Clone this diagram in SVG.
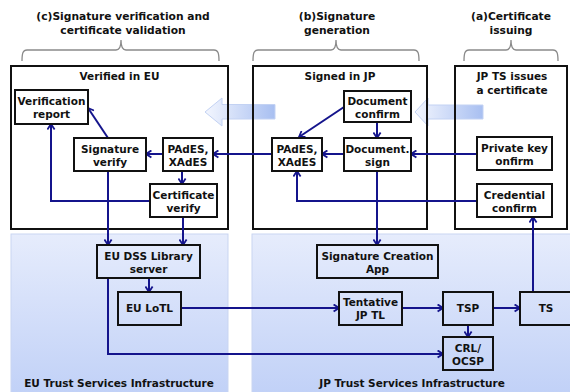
<svg xmlns="http://www.w3.org/2000/svg" width="570" height="392" viewBox="0 0 570 392">
  <style>
    text { font-family: "DejaVu Sans", "Liberation Sans", sans-serif; font-weight: bold; font-size: 10.5px; fill: #111; text-anchor: middle; }
    .head { font-size: 10.7px; }
    .frame { fill: none; stroke: #111; stroke-width: 2; }
    .box { fill: #fff; stroke: #111; stroke-width: 2; }
    .box-t { fill: none; stroke: #111; stroke-width: 2; }
    .brace { fill: none; stroke: #8a8a8a; stroke-width: 1.3; }
    .infra { fill: url(#infraGrad); stroke: #c9d5f1; stroke-width: 1; }
    .flow { fill: url(#flowGrad); stroke: #c3d2f3; stroke-width: 1; }
    .conn { fill: none; stroke: #14148c; stroke-width: 2; marker-end: url(#arr); }
  </style>
  <defs>
    <linearGradient id="infraGrad" x1="0" y1="0" x2="0" y2="1">
      <stop offset="0" stop-color="#e6ecfc"/>
      <stop offset="1" stop-color="#c1d1f7"/>
    </linearGradient>
    <linearGradient id="flowGrad" x1="0" y1="0" x2="1" y2="0">
      <stop offset="0" stop-color="#f3f6fe"/>
      <stop offset="1" stop-color="#a8bff1"/>
    </linearGradient>
    <marker id="arr" viewBox="0 0 10 10" refX="9" refY="5" markerWidth="9" markerHeight="9" markerUnits="userSpaceOnUse" orient="auto">
      <path d="M3,1 L9,5 L3,9" fill="none" stroke="#14148c" stroke-width="2"/>
    </marker>
  </defs>

  <!-- Infrastructure areas -->
  <g id="eu-infra">
    <rect class="infra" x="11" y="234" width="217" height="160"/>
    <text x="119" y="387">EU Trust Services Infrastructure</text>
  </g>
  <g id="jp-infra">
    <rect class="infra" x="252" y="234" width="320" height="160"/>
    <text x="412" y="387">JP Trust Services Infrastructure</text>
  </g>

  <!-- Phase headings with braces -->
  <g id="phase-c">
    <text class="head" x="123" y="20">(c)Signature verification and</text>
    <text class="head" x="123" y="34">certificate validation</text>
    <path class="brace" d="M22,61 C22,53 23,50 27,50 L116,50 C119,50 121,48 121,40 C121,48 123,50 126,50 L214,50 C218,50 219,53 219,61"/>
  </g>
  <g id="phase-b">
    <text class="head" x="337" y="20">(b)Signature</text>
    <text class="head" x="337" y="34">generation</text>
    <path class="brace" d="M253,61 C253,53 254,50 258,50 L331,50 C334,50 336,48 336,40 C336,48 338,50 341,50 L414,50 C418,50 419,53 419,61"/>
  </g>
  <g id="phase-a">
    <text class="head" x="511" y="20">(a)Certificate</text>
    <text class="head" x="511" y="34">issuing</text>
    <path class="brace" d="M464,61 C464,53 465,50 469,50 L506,50 C509,50 511,48 511,40 C511,48 513,50 516,50 L553,50 C557,50 558,53 558,61"/>
  </g>

  <!-- Flow direction arrows -->
  <g id="flow-arrows">
    <path class="flow" d="M205,112 L222,98 L222,104.5 L275,104.5 L275,119 L222,119 L222,126 Z"/>
    <path class="flow" d="M415,112 L428,98 L428,105 L483,105 L483,119 L428,119 L428,126 Z"/>
  </g>

  <!-- Phase frames -->
  <g id="verified-eu">
    <rect class="frame" x="11" y="66" width="217" height="163"/>
    <text x="119.5" y="80">Verified in EU</text>
  </g>
  <g id="signed-jp">
    <rect class="frame" x="253" y="66" width="174" height="163"/>
    <text x="340" y="80">Signed in JP</text>
  </g>
  <g id="jp-ts-issues">
    <rect class="frame" x="455" y="66" width="112" height="163"/>
    <text x="512" y="80">JP TS issues</text>
    <text x="512" y="94">a certificate</text>
  </g>

  <!-- Connectors -->
  <g id="connectors">
    <path class="conn" d="M272,154 H213"/>
    <path class="conn" d="M163,154 H146"/>
    <path class="conn" d="M182,171 V184"/>
    <path class="conn" d="M108,138 L88,108"/>
    <path class="conn" d="M150,201 H51 V124"/>
    <path class="conn" d="M108,171 V245"/>
    <path class="conn" d="M183,217 V245"/>
    <path class="conn" d="M149,278 V292"/>
    <path class="conn" d="M108,278 V354 H443"/>
    <path class="conn" d="M181,308 H339"/>
    <path class="conn" d="M402,308 H443"/>
    <path class="conn" d="M493,308 H520"/>
    <path class="conn" d="M468,325 V337"/>
    <path class="conn" d="M533,292 V217"/>
    <path class="conn" d="M477,201 H297 V171"/>
    <path class="conn" d="M477,154 H411"/>
    <path class="conn" d="M344,154 H322"/>
    <path class="conn" d="M377,171 V245"/>
    <path class="conn" d="M377,122 V138"/>
    <path class="conn" d="M344,107 L299,137"/>
  </g>

  <!-- Nodes: verification in EU -->
  <g id="verification-report">
    <rect class="box" x="15" y="90" width="73" height="34"/>
    <text x="51.5" y="105">Verification</text>
    <text x="51.5" y="118">report</text>
  </g>
  <g id="signature-verify">
    <rect class="box" x="74" y="138" width="72" height="33"/>
    <text x="110" y="153">Signature</text>
    <text x="110" y="166">verify</text>
  </g>
  <g id="pades-eu">
    <rect class="box" x="163" y="138" width="50" height="33"/>
    <text x="188" y="153">PAdES,</text>
    <text x="188" y="166">XAdES</text>
  </g>
  <g id="certificate-verify">
    <rect class="box" x="150" y="184" width="67" height="33"/>
    <text x="183.5" y="199">Certificate</text>
    <text x="183.5" y="212">verify</text>
  </g>

  <!-- Nodes: signing in JP -->
  <g id="document-confirm">
    <rect class="box" x="344" y="91" width="67" height="31"/>
    <text x="377.5" y="105">Document</text>
    <text x="377.5" y="118">confirm</text>
  </g>
  <g id="document-sign">
    <rect class="box" x="344" y="138" width="67" height="33"/>
    <text x="377.5" y="153">Document.</text>
    <text x="377.5" y="166">sign</text>
  </g>
  <g id="pades-jp">
    <rect class="box" x="272" y="138" width="50" height="33"/>
    <text x="297" y="153">PAdES,</text>
    <text x="297" y="166">XAdES</text>
  </g>

  <!-- Nodes: certificate issuing -->
  <g id="private-key">
    <rect class="box" x="477" y="137" width="75" height="33"/>
    <text x="514.5" y="152">Private key</text>
    <text x="514.5" y="165">onfirm</text>
  </g>
  <g id="credential">
    <rect class="box" x="477" y="184" width="75" height="33"/>
    <text x="514.5" y="199">Credential</text>
    <text x="514.5" y="212">confirm</text>
  </g>

  <!-- Nodes: trust infrastructure -->
  <g id="eu-dss">
    <rect class="box-t" x="97" y="245" width="103" height="33"/>
    <text x="148.5" y="260">EU DSS Library</text>
    <text x="148.5" y="273">server</text>
  </g>
  <g id="eu-lotl">
    <rect class="box-t" x="118" y="292" width="63" height="33"/>
    <text x="149.5" y="312">EU LoTL</text>
  </g>
  <g id="signature-app">
    <rect class="box-t" x="317" y="245" width="121" height="33"/>
    <text x="377.5" y="260">Signature Creation</text>
    <text x="377.5" y="273">App</text>
  </g>
  <g id="tentative-tl">
    <rect class="box-t" x="339" y="292" width="63" height="33"/>
    <text x="370.5" y="306">Tentative</text>
    <text x="370.5" y="319">JP TL</text>
  </g>
  <g id="tsp">
    <rect class="box-t" x="443" y="292" width="50" height="33"/>
    <text x="468" y="312">TSP</text>
  </g>
  <g id="ts">
    <rect class="box-t" x="520" y="292" width="60" height="33"/>
    <text x="546" y="312">TS</text>
  </g>
  <g id="crl-ocsp">
    <rect class="box-t" x="443" y="337" width="50" height="33"/>
    <text x="468" y="352">CRL/</text>
    <text x="468" y="365">OCSP</text>
  </g>
</svg>
